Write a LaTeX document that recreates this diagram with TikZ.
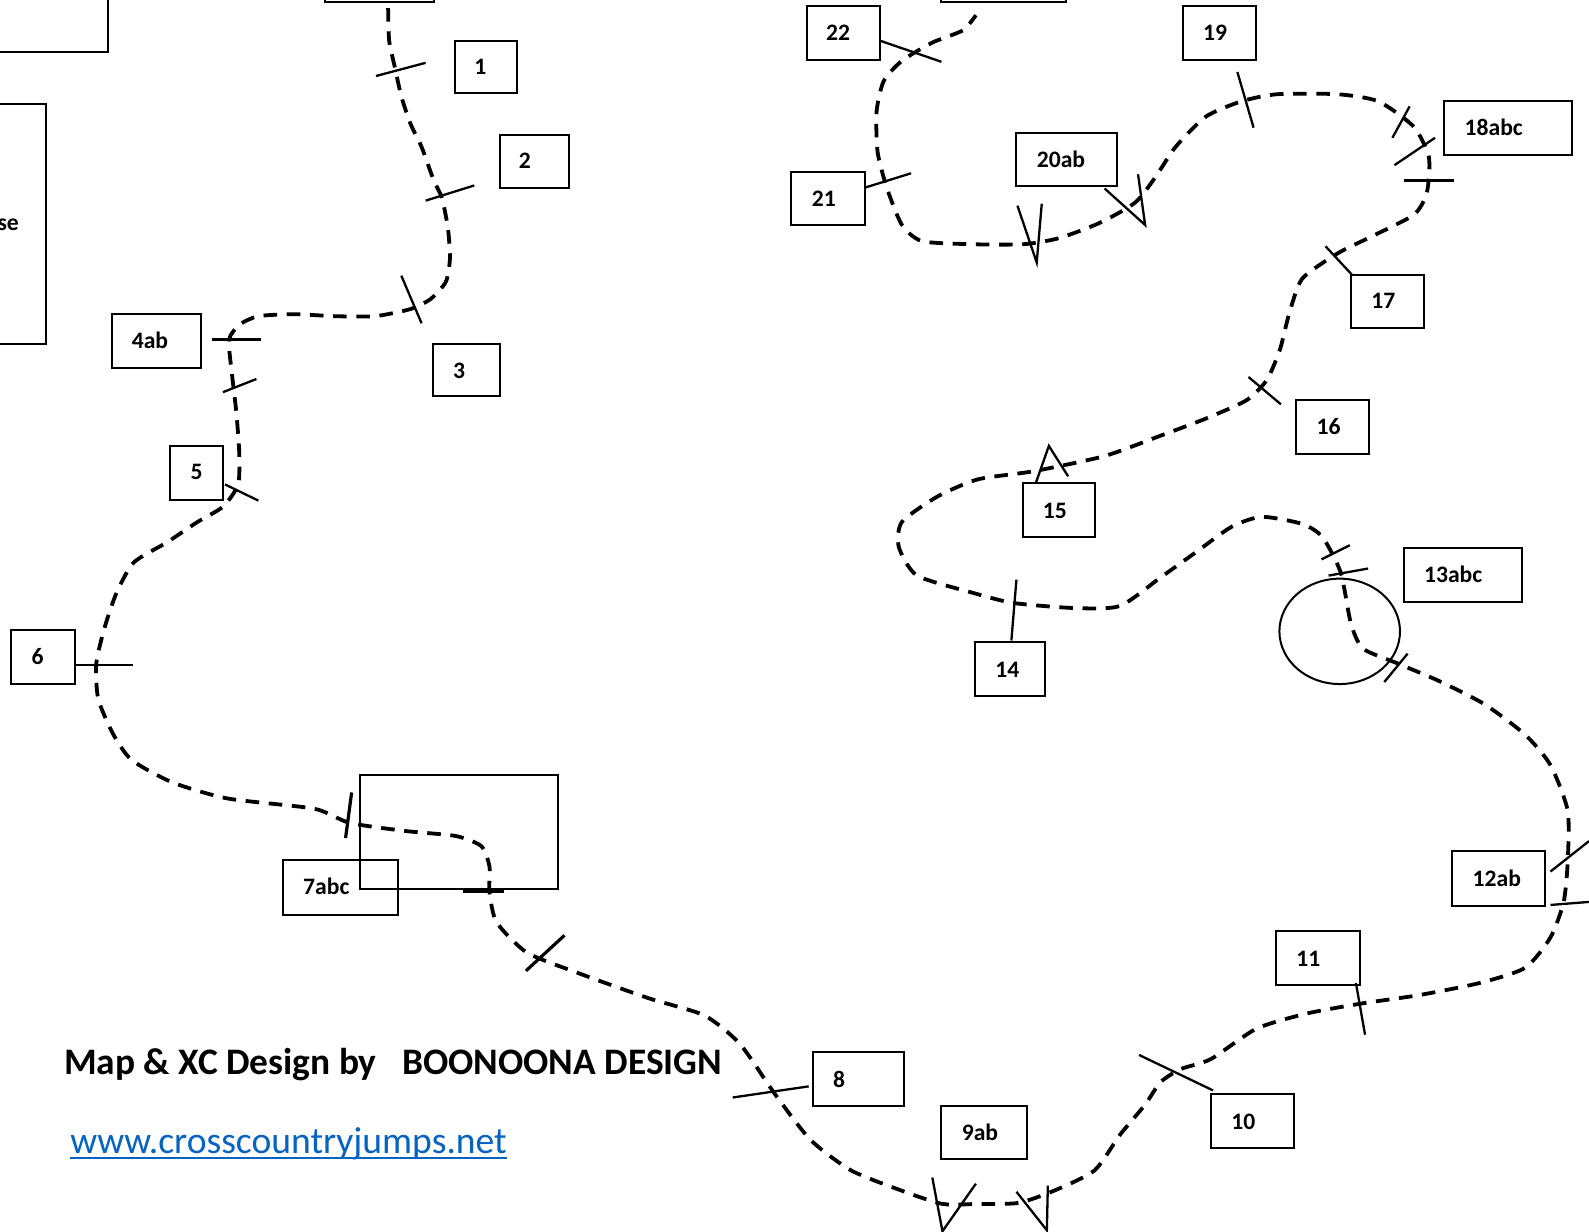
\documentclass[tikz,border=0pt]{standalone}
\usepackage{fontspec}
\setmainfont{Carlito}
\newcommand{\cbox}[8]{%
  \draw[boxline] (#2,#3) rectangle (#4,#5);
  \node[lbl] (#1) at (#6,#7) {#8};}
\definecolor{linkblue}{RGB}{5,99,193}
\tikzset{
  boxline/.style={draw=black,line width=1pt},
  lbl/.style={inner sep=0pt,font=\bfseries\fontsize{11.8}{13}\selectfont,text=black},
  tick/.style={draw=black,line width=1.15pt},
  thicktick/.style={draw=black,line width=1.6pt},
  track/.style={draw=black,line width=1.9pt,dash pattern=on 6.8pt off 4.8pt},
}
\begin{document}
\begin{tikzpicture}[x=0.50670pt,y=-0.50670pt]
\useasboundingbox (0,0) rectangle (1568,1215);
\fill[white] (0,0) rectangle (1568,1215);
\clip (0,0) rectangle (1568,1215);
% outer boxes cut by the page edge
\draw[boxline] (-10,-10) rectangle (107,51);
\draw[boxline] (-10,103) rectangle (45,339);
\node[lbl,anchor=east] (se) at (19,222) {se};
\draw[boxline] (321,-10) rectangle (428,2);
\draw[boxline] (929,-10) rectangle (1052,2);
\draw[boxline] (355,765) rectangle (551,877);
\draw[boxline] (1322,623) ellipse [x radius=59.5,y radius=52];
% numbered boxes
\cbox{b1}{449}{40}{510}{92}{474}{66}{1}
\cbox{b2}{493}{133}{561}{186}{518}{159}{2}
\cbox{b3}{427}{339}{493}{391}{453}{366}{3}
\cbox{b4}{111}{310}{198}{363}{148}{336}{4ab}
\cbox{b5}{168}{440}{220}{493}{194}{466}{5}
\cbox{b6}{11}{622}{74}{675}{37}{648}{6}
\cbox{b7}{279}{849}{393}{903}{322}{875}{7abc}
\cbox{b8}{802}{1038}{892}{1091}{828}{1065}{8}
\cbox{b9}{929}{1091}{1013}{1144}{967}{1117}{9ab}
\cbox{b10}{1195}{1080}{1277}{1133}{1227}{1107}{10}
\cbox{b11}{1259}{919}{1342}{972}{1291}{946}{11}
\cbox{b12}{1433}{840}{1525}{894}{1477}{867}{12ab}
\cbox{b13}{1385}{541}{1502}{594}{1434}{567}{13abc}
\cbox{b14}{962}{634}{1031}{687}{994}{661}{14}
\cbox{b15}{1009}{477}{1081}{530}{1041}{504}{15}
\cbox{b16}{1279}{395}{1351}{448}{1311}{421}{16}
\cbox{b17}{1333}{271}{1405}{324}{1365}{297}{17}
\cbox{b18}{1425}{100}{1551}{153}{1474}{126}{18abc}
\cbox{b19}{1167}{6}{1239}{59}{1199}{32}{19}
\cbox{b20}{1003}{131}{1102}{184}{1047}{157}{20ab}
\cbox{b21}{781}{170}{854}{222}{813}{196}{21}
\cbox{b22}{796}{6}{868}{59}{827}{32}{22}
% course track
\draw[track] plot[smooth,tension=0.4] coordinates {
(383,8)(384,40)(390,68)(396,95)(405,122)(416,145)(428,178)(436,195)(442,225)(444,255)(440,278)(425,295)(405,305)(370,312)(330,312)(290,310)(255,312)(237,320)(226,335)(229,370)(233,405)(236,445)(235,478)(220,500)(195,515)(165,535)(132,555)(115,585)(103,620)(95,655)(97,690)(112,725)(130,750)(170,772)(225,788)(310,798)(345,812)(400,820)(450,825)(475,835)(483,855)(483,880)(490,910)(520,940)(570,960)(640,985)(695,1002)(730,1030)(765,1080)(800,1125)(840,1155)(890,1175)(930,1188)(965,1188)(1005,1187)(1040,1175)(1080,1155)(1105,1120)(1130,1090)(1145,1068)(1165,1055)(1195,1045)(1240,1015)(1290,1000)(1345,990)(1400,982)(1460,970)(1505,955)(1530,925)(1543,890)(1547,850)(1547,800)(1530,755)(1505,725)(1465,695)(1420,672)(1380,655)(1345,640)(1333,615)(1323,565)(1305,530)(1285,517)(1245,510)(1215,520)(1180,545)(1145,570)(1105,598)(1060,600)(1000,595)(960,585)(905,568)(887,540)(890,515)(925,490)(965,473)(1020,465)(1090,450)(1145,430)(1190,413)(1230,395)(1250,375)(1263,345)(1272,310)(1285,275)(1320,250)(1350,235)(1395,212)(1408,190)(1410,155)(1395,125)(1360,100)(1320,93)(1260,93)(1225,100)(1190,115)(1160,145)(1140,175)(1120,200)(1085,220)(1045,235)(1010,241)(960,241)(910,238)(890,222)(875,185)(866,150)(865,110)(872,80)(890,60)(920,42)(950,30)(963,15)};
% ticks at the fences
\draw[tick] (371,75) -- (420,62);
\draw[tick] (420,198) -- (468,183);
\draw[tick] (396,272) -- (416,319);
\draw[tick] (209,335) -- (258,335);
\draw[tick] (220,387) -- (253,374);
\draw[tick] (222,478) -- (255,494);
\draw[tick] (74,656) -- (131,656);
\draw[thicktick] (347,782) -- (341,827);
\draw[thicktick] (457,880) -- (497,880);
\draw[thicktick] (519,958) -- (557,923);
\draw[tick] (723,1083) -- (798,1072);
\draw[tick] (920,1162) -- (930,1215) -- (963,1168);
\draw[tick] (1003,1176) -- (1033,1214) -- (1034,1170);
\draw[tick] (1124,1041) -- (1197,1076);
\draw[tick] (1338,970) -- (1347,1021);
\draw[tick] (1530,860) -- (1568,830);
\draw[tick] (1530,893) -- (1568,890);
\draw[tick] (1304,552) -- (1332,538);
\draw[tick] (1311,568) -- (1350,561);
\draw[tick] (1366,673) -- (1389,645);
\draw[tick] (1003,572) -- (998,632);
\draw[tick] (1022,477) -- (1035,440) -- (1054,470);
\draw[tick] (1232,372) -- (1264,399);
\draw[tick] (1308,243) -- (1334,271);
\draw[tick] (1391,105) -- (1374,136);
\draw[tick] (1416,136) -- (1376,163);
\draw[tick] (1385,178) -- (1435,178);
\draw[tick] (1221,71) -- (1237,126);
\draw[tick] (1004,203) -- (1023,259) -- (1028,201);
\draw[tick] (1090,186) -- (1130,222) -- (1123,172);
\draw[tick] (854,185) -- (899,171);
\draw[tick] (868,40) -- (929,61);
% credit
\node[anchor=base west,inner sep=0pt,font=\bfseries\fontsize{18.7}{21}\selectfont] (credit) at (63,1060) {Map \& XC Design by\ \ \ BOONOONA DESIGN};
\node[anchor=base west,inner sep=0pt,text=linkblue,font=\fontsize{18.8}{21}\selectfont] (url) at (69,1138) {www.crosscountryjumps.net};
\draw[linkblue,line width=0.6pt] ([yshift=-2.4pt]url.base west) -- ([yshift=-2.4pt]url.base east);
\end{tikzpicture}
\end{document}
